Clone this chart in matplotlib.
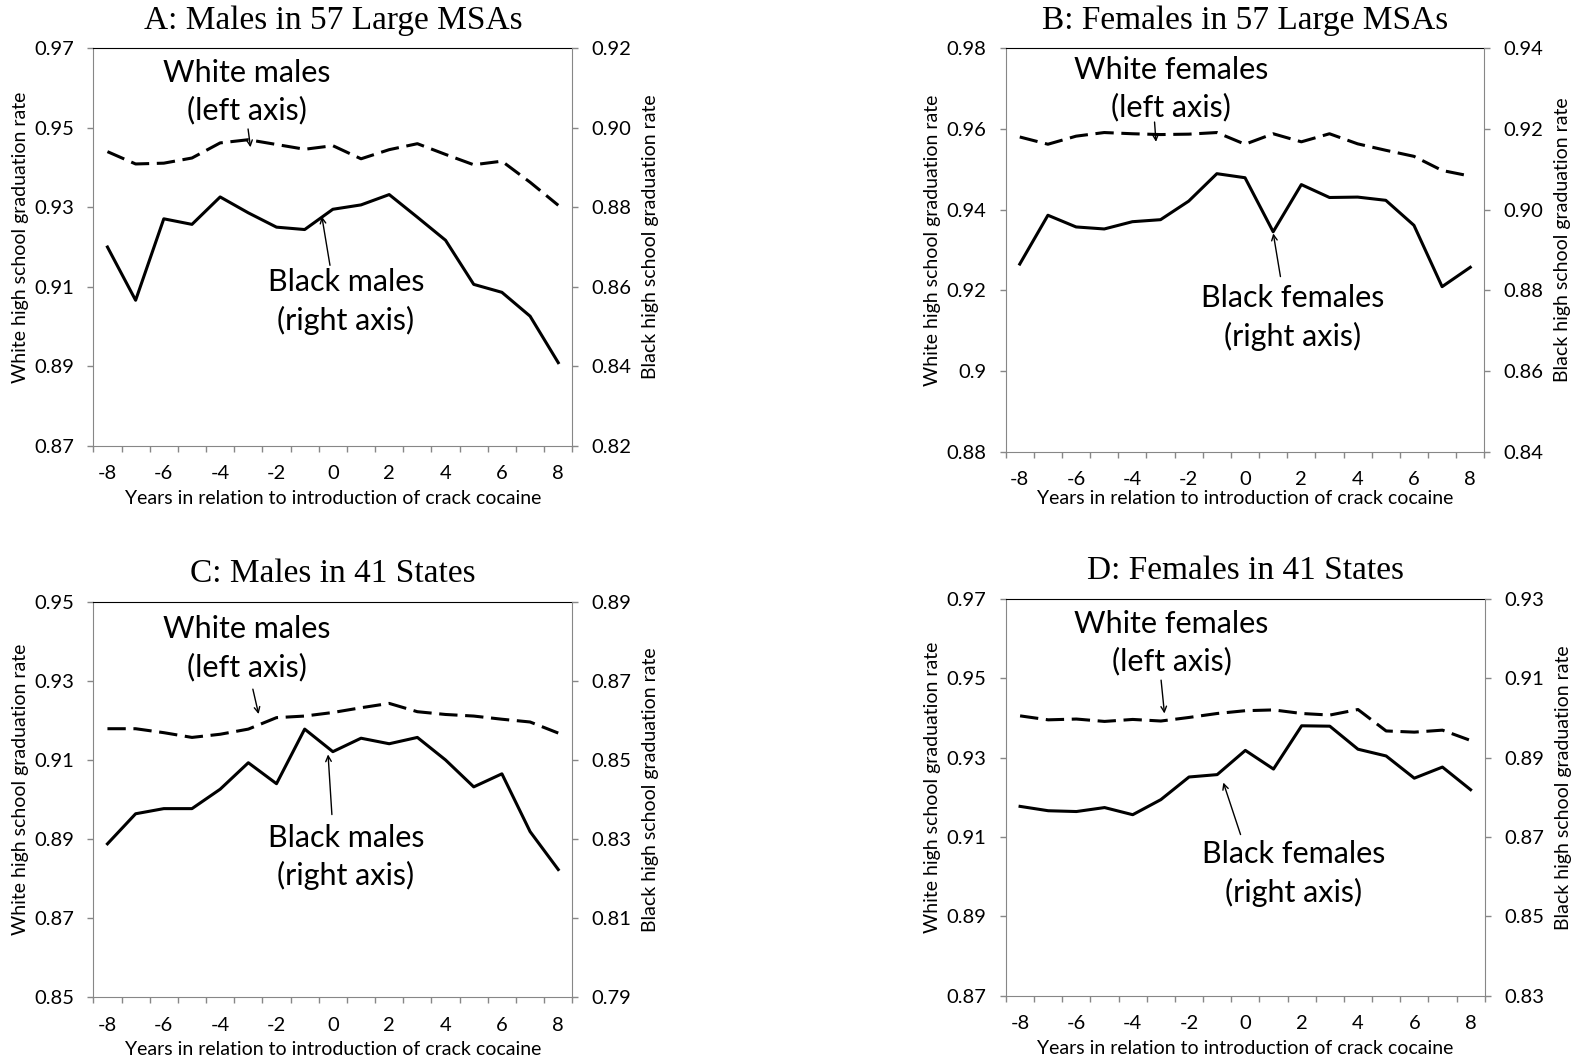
import matplotlib
matplotlib.use('Agg')
import matplotlib.pyplot as plt
import numpy as np

plt.rcParams['font.family'] = ['Lato', 'DejaVu Sans']

years = list(range(-8, 9))
xtick_years = [-8, -6, -4, -2, 0, 2, 4, 6, 8]

# panel A: males, 57 large MSAs
white_a = [0.9440, 0.9409, 0.9411, 0.9424, 0.9462, 0.9470, 0.9458, 0.9446, 0.9455,
           0.9422, 0.9445, 0.9460, 0.9433, 0.9407, 0.9416, 0.9363, 0.9305]
black_a = [0.8700, 0.8566, 0.8771, 0.8757, 0.8826, 0.8786, 0.8750, 0.8744, 0.8795,
           0.8806, 0.8832, 0.8775, 0.8717, 0.8606, 0.8586, 0.8526, 0.8409]
# panel B: females, 57 large MSAs
white_b = [0.9580, 0.9562, 0.9582, 0.9591, 0.9588, 0.9586, 0.9587, 0.9591, 0.9562,
           0.9588, 0.9568, 0.9588, 0.9563, 0.9547, 0.9532, 0.9497, 0.9483]
black_b = [0.8865, 0.8986, 0.8957, 0.8952, 0.8970, 0.8975, 0.9021, 0.9089, 0.9079,
           0.8945, 0.9062, 0.9030, 0.9031, 0.9023, 0.8961, 0.8809, 0.8857]
# panel C: males, 41 states
white_c = [0.9179, 0.9179, 0.9169, 0.9157, 0.9165, 0.9178, 0.9207, 0.9211, 0.9220,
           0.9232, 0.9243, 0.9222, 0.9215, 0.9211, 0.9203, 0.9196, 0.9168]
black_c = [0.8288, 0.8364, 0.8377, 0.8377, 0.8426, 0.8493, 0.8440, 0.8578, 0.8521,
           0.8555, 0.8541, 0.8557, 0.8500, 0.8432, 0.8465, 0.8319, 0.8223]
# panel D: females, 41 states
white_d = [0.9405, 0.9395, 0.9397, 0.9391, 0.9396, 0.9392, 0.9401, 0.9411, 0.9418,
           0.9420, 0.9411, 0.9407, 0.9421, 0.9367, 0.9364, 0.9369, 0.9343]
black_d = [0.8777, 0.8766, 0.8764, 0.8774, 0.8756, 0.8794, 0.8851, 0.8857, 0.8918,
           0.8871, 0.8980, 0.8979, 0.8921, 0.8904, 0.8848, 0.8876, 0.8819]

left_ticks_a = ['0.87', '0.89', '0.91', '0.93', '0.95', '0.97']
right_ticks_a = ['0.82', '0.84', '0.86', '0.88', '0.90', '0.92']
left_ticks_b = ['0.88', '0.9', '0.92', '0.94', '0.96', '0.98']
right_ticks_b = ['0.84', '0.86', '0.88', '0.90', '0.92', '0.94']
left_ticks_c = ['0.85', '0.87', '0.89', '0.91', '0.93', '0.95']
right_ticks_c = ['0.79', '0.81', '0.83', '0.85', '0.87', '0.89']
left_ticks_d = ['0.87', '0.89', '0.91', '0.93', '0.95', '0.97']
right_ticks_d = ['0.83', '0.85', '0.87', '0.89', '0.91', '0.93']

titles = ['A: Males in 57 Large MSAs', 'B: Females in 57 Large MSAs',
          'C: Males in 41 States', 'D: Females in 41 States']
white_names = ['White males', 'White females', 'White males', 'White females']
black_names = ['Black males', 'Black females', 'Black males', 'Black females']

GRAY = '#878787'

panels = [
    dict(rect=[0.0589, 0.5803, 0.3022, 0.3742], white=white_a, black=black_a,
         lt=left_ticks_a, rt=right_ticks_a, xl=-0.132,
         wtxt=(0.320, 0.891), btxt=(0.527, 0.362),
         warr=((0.323, 0.797), (0.328, 0.751)), barr=((0.494, 0.454), (0.477, 0.577))),
    dict(rect=[0.6345, 0.5747, 0.3020, 0.3799], white=white_b, black=black_b,
         lt=left_ticks_b, rt=right_ticks_b, xl=-0.117,
         wtxt=(0.346, 0.8995), btxt=(0.600, 0.3325),
         warr=((0.311, 0.817), (0.314, 0.768)), barr=((0.574, 0.434), (0.559, 0.541))),
    dict(rect=[0.0589, 0.0609, 0.3022, 0.3725], white=white_c, black=black_c,
         lt=left_ticks_c, rt=right_ticks_c, xl=-0.131,
         wtxt=(0.320, 0.8825), btxt=(0.527, 0.3545),
         warr=((0.333, 0.779), (0.345, 0.716)), barr=((0.498, 0.462), (0.490, 0.614))),
    dict(rect=[0.6347, 0.0624, 0.3020, 0.3738], white=white_d, black=black_d,
         lt=left_ticks_d, rt=right_ticks_d, xl=-0.134,
         wtxt=(0.346, 0.889), btxt=(0.600, 0.308),
         warr=((0.324, 0.795), (0.331, 0.711)), barr=((0.490, 0.406), (0.454, 0.537))),
]

fig = plt.figure(figsize=(15.85, 10.62), dpi=100)

for i, p in enumerate(panels):
    ax = fig.add_axes(p['rect'])
    ax2 = ax.twinx()

    lt = [float(t) for t in p['lt']]
    rt = [float(t) for t in p['rt']]

    ax.plot(years, p['white'], color='black', lw=2.2, dashes=(6, 2.5))
    ax2.plot(years, p['black'], color='black', lw=2.2)

    ax.set_xlim(-8.5, 8.5)
    ax.set_ylim(lt[0], lt[-1])
    ax2.set_ylim(rt[0], rt[-1])
    ax.set_yticks(lt)
    ax.set_yticklabels(p['lt'])
    ax2.set_yticks(rt)
    ax2.set_yticklabels(p['rt'])

    ax.set_xticks(xtick_years)
    ax.set_xticklabels([str(y) for y in xtick_years])
    ax.set_xticks(np.arange(-8.5, 9.0, 1.0), minor=True)
    ax.tick_params(axis='x', which='major', length=0, pad=14, labelsize=14.5)
    ax.tick_params(axis='x', which='minor', length=4, width=1, color=GRAY, direction='out')
    ax.tick_params(axis='y', length=4, width=1, color=GRAY, direction='out', pad=10, labelsize=14.5)
    ax2.tick_params(axis='y', length=4, width=1, color=GRAY, direction='out', pad=10, labelsize=14.5)

    for s in ['left', 'bottom']:
        ax.spines[s].set_color(GRAY)
    ax.spines['top'].set_color('black')
    ax.spines['right'].set_visible(False)
    for s in ['left', 'bottom', 'top']:
        ax2.spines[s].set_visible(False)
    ax2.spines['right'].set_color(GRAY)

    ax.set_ylabel('White high school graduation rate', fontsize=14, va='center')
    ax.yaxis.set_label_coords(-0.153, 0.525)
    ax2.set_ylabel('Black high school graduation rate', fontsize=14, va='center')
    ax2.yaxis.set_label_coords(1.164, 0.525)
    ax.set_xlabel('Years in relation to introduction of crack cocaine', fontsize=14, va='center')
    ax.xaxis.set_label_coords(0.5, p['xl'])

    ax.set_title(titles[i], family='Liberation Serif', fontsize=24, pad=14)

    ax.text(p['wtxt'][0], p['wtxt'][1], white_names[i] + '\n(left axis)',
            transform=ax.transAxes, ha='center', va='center', fontsize=22, linespacing=1.4)
    ax.text(p['btxt'][0], p['btxt'][1], black_names[i] + '\n(right axis)',
            transform=ax.transAxes, ha='center', va='center', fontsize=22, linespacing=1.4)

    for tail, tip in [p['warr'], p['barr']]:
        ax2.annotate('', xy=tip, xytext=tail, xycoords='axes fraction', textcoords='axes fraction',
                     arrowprops=dict(arrowstyle='->', color='black', lw=1, shrinkA=0, shrinkB=0,
                                     mutation_scale=10))

fig.savefig('out.png', dpi=100)
